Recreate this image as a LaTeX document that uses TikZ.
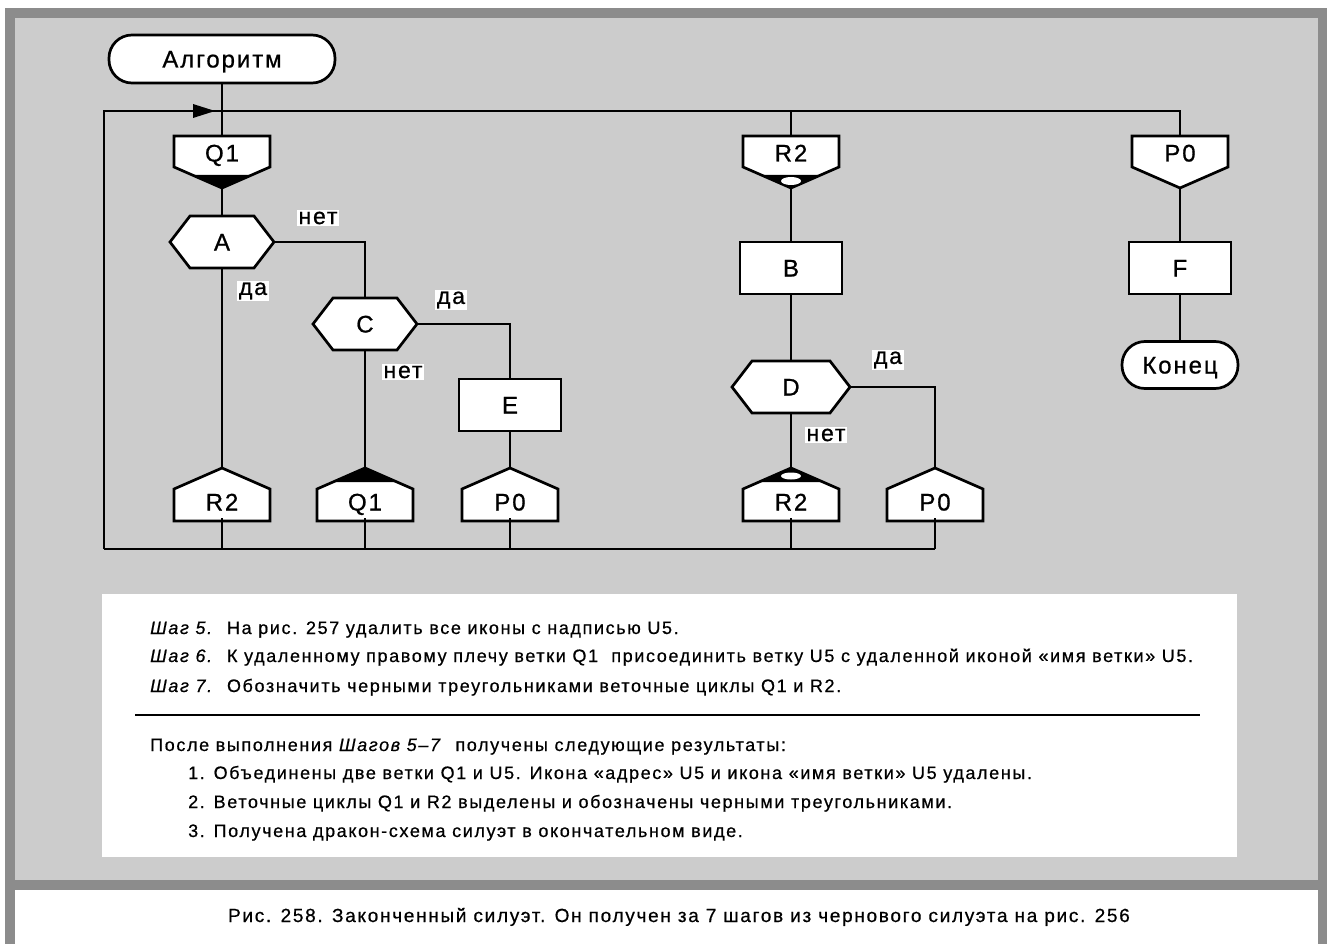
\documentclass[tikz,border=0pt]{standalone}
\usepackage{fontspec}
\usetikzlibrary{calc}
\newfontfamily\dfont[LetterSpace=8,FakeBold=0.8]{Liberation Sans}
\newfontfamily\tfont[LetterSpace=9,FakeBold=0.6]{Liberation Sans}
\definecolor{darkbg}{RGB}{140,140,140}
\definecolor{lightbg}{RGB}{204,204,204}
\tikzset{
  ln/.style={line width=2.7pt},
  shp/.style={draw=black, fill=white, line width=2.7pt, line join=miter},
  dtext/.style={font=\dfont\fontsize{24}{28}\selectfont, text height=17pt, text depth=0pt},
  txt/.style={inner sep=0pt, dtext},
  boxnode/.style={shp, inner sep=0pt, minimum width=102pt, minimum height=52pt, dtext},
  termnode/.style={shp, inner sep=0pt, rounded corners=23pt, dtext},
  lab/.style={fill=white, inner sep=1.5pt, font=\dfont\fontsize{23}{27}\selectfont},
  ptext/.style={anchor=base west, inner sep=0pt, font=\tfont\fontsize{18}{21}\selectfont},
}
% hexagon: name, x, y, halfwidth, text
\newcommand{\drhex}[5]{%
  \filldraw[shp] (#2-#4,#3) -- (#2-#4+20,#3-26) -- (#2+#4-20,#3-26) -- (#2+#4,#3) -- (#2+#4-20,#3+26) -- (#2-#4+20,#3+26) -- cycle;
  \node[txt, minimum width=2*#4, minimum height=52] (#1) at (#2,#3) {#5};}
% branch-name icon: name, x, text, mark (0 none, 1 triangle, 2 triangle+ellipse)
\newcommand{\drbranch}[4]{%
  \filldraw[shp] (#2-48,136) -- (#2+48,136) -- (#2+48,167) -- (#2,188) -- (#2-48,167) -- cycle;
  \ifnum#4>0 \fill[black] (#2-30,175) -- (#2+30,175) -- (#2,188) -- cycle;\fi
  \ifnum#4>1 \fill[white] (#2,181) ellipse [x radius=10, y radius=4];\fi
  \node[txt, minimum width=96, minimum height=31] (#1) at (#2,153) {#3};
  \coordinate (#1-tip) at (#2,188);}
% address icon: name, x, text, mark
\newcommand{\draddr}[4]{%
  \filldraw[shp] (#2,468) -- (#2+48,489) -- (#2+48,521) -- (#2-48,521) -- (#2-48,489) -- cycle;
  \ifnum#4>0 \fill[black] (#2-32,482) -- (#2+32,482) -- (#2,468) -- cycle;\fi
  \ifnum#4>1 \fill[white] (#2,476) ellipse [x radius=10, y radius=3.5];\fi
  \node[txt, minimum width=96, minimum height=32] (#1) at (#2,502) {#3};
  \coordinate (#1-tip) at (#2,468);}
\begin{document}
\begin{tikzpicture}[x=1pt,y=-1pt]
\useasboundingbox (0,0) rectangle (1327,944);
% background
\fill[white] (0,0) rectangle (1327,944);
\fill[darkbg] (5,8) rectangle (1327,944);
\fill[lightbg] (15,18) rectangle (1318,880);
\fill[white] (15,890) rectangle (1318,944);
\fill[white] (102,594) rectangle (1237,857);

% nodes
\node[termnode, minimum width=226, minimum height=48] (start) at (222,59) {Алгоритм};
\drbranch{q1b}{222}{Q1}{1}
\drbranch{r2b}{791}{R2}{2}
\drbranch{p0b}{1180}{P0}{0}
\drhex{A}{222}{242}{52}{A}
\drhex{C}{365}{324}{52}{C}
\drhex{D}{791}{387}{59}{D}
\node[boxnode] (E) at (510,405) {E};
\node[boxnode] (B) at (791,268) {B};
\node[boxnode] (F) at (1180,268) {F};
\node[termnode, minimum width=116, minimum height=47] (end) at (1180,365) {Конец};
\draddr{ar2a}{222}{R2}{0}
\draddr{aq1}{365}{Q1}{1}
\draddr{ap0a}{510}{P0}{0}
\draddr{ar2b}{791}{R2}{2}
\draddr{ap0b}{935}{P0}{0}

\coordinate (tl) at (104,111);
\coordinate (bl) at (104,549);

% connectors
\draw[ln] (bl) -- (tl) -- (tl -| p0b.north) -- (p0b.north);
\fill[black] (193,104) -- (215,111) -- (193,118) -- cycle;
\draw[ln] (start.south) -- (q1b.north);
\draw[ln] (r2b.north |- tl) -- (r2b.north);
\draw[ln] (q1b-tip) -- (A.north);
\draw[ln] (A.south) -- (ar2a-tip);
\draw[ln] (A.east) -| (C.north);
\draw[ln] (C.south) -- (aq1-tip);
\draw[ln] (C.east) -| (E.north);
\draw[ln] (E.south) -- (ap0a-tip);
\draw[ln] (r2b-tip) -- (B.north);
\draw[ln] (B.south) -- (D.north);
\draw[ln] (D.south) -- (ar2b-tip);
\draw[ln] (D.east) -| (ap0b-tip);
\draw[ln] (p0b-tip) -- (F.north);
\draw[ln] (F.south) -- (end.north);
\draw[ln] (bl) -- (bl -| ap0b.south);
\foreach \n in {ar2a,aq1,ap0a,ar2b,ap0b} \draw[ln] (\n.south) -- (\n.south |- bl);

% labels
\node[lab] (l1) at (318,218) {нет};
\node[lab] (l2) at (253,291) {да};
\node[lab] (l3) at (451,300) {да};
\node[lab] (l4) at (403,372) {нет};
\node[lab] (l5) at (888,360) {да};
\node[lab] (l6) at (826,435) {нет};

% text panel
\node[ptext] (s5) at (150,634) {\textit{Шаг 5.}\ \ На рис. 257 удалить все иконы с надписью U5.};
\node[ptext] (s6) at (150,662) {\textit{Шаг 6.}\ \ К удаленному правому плечу ветки Q1\ \ присоединить ветку U5 с удаленной иконой «имя ветки» U5.};
\node[ptext] (s7) at (150,692) {\textit{Шаг 7.}\ \ Обозначить черными треугольниками веточные циклы Q1 и R2.};
\draw[line width=2.4pt] (135,715) -- (1200,715);
\node[ptext] (r0) at (150,751) {После выполнения \textit{Шагов 5–7}\ \ получены следующие результаты:};
\node[ptext] (r1) at (188,779) {1. Объединены две ветки Q1 и U5. Икона «адрес» U5 и икона «имя ветки» U5 удалены.};
\node[ptext] (r2) at (188,808) {2. Веточные циклы Q1 и R2 выделены и обозначены черными треугольниками.};
\node[ptext] (r3) at (188,837) {3. Получена дракон-схема силуэт в окончательном виде.};
% caption
\node[inner sep=0pt, anchor=base, font=\tfont\fontsize{19}{22}\selectfont] (cap) at (679,922) {Рис. 258. Законченный силуэт. Он получен за 7 шагов из чернового силуэта на рис. 256};
\end{tikzpicture}
\end{document}
